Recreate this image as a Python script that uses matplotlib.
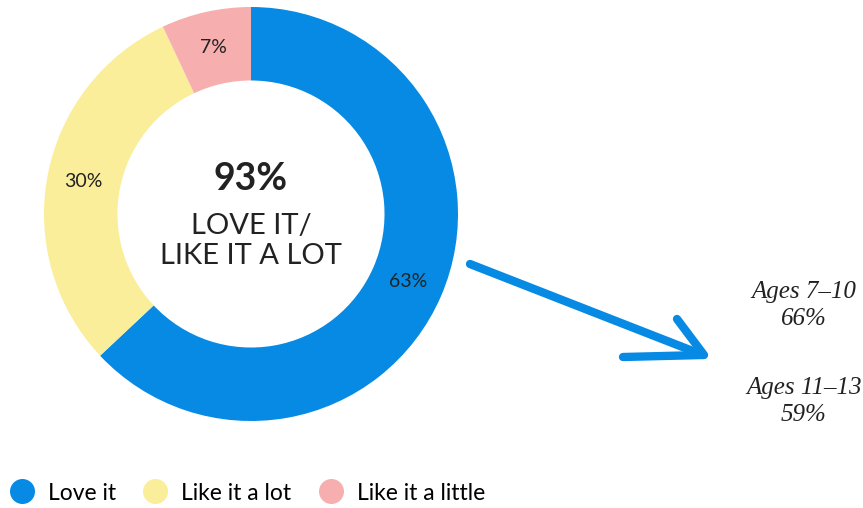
import matplotlib.pyplot as plt
from matplotlib.lines import Line2D

# data
labels = ["Love it", "Like it a lot", "Like it a little"]
shares = [63, 30, 7]
colors = ["#078AE4", "#FAEE9A", "#F7AEAE"]
headline_pct = "93%"
headline_text = "LOVE IT/\nLIKE IT A LOT"
age_groups = ["Ages 7\u201310", "Ages 11\u201313"]
age_pcts = ["66%", "59%"]

W, H = 863, 508
SANS = ["Lato", "DejaVu Sans"]
SERIF = ["Liberation Serif", "DejaVu Serif"]


def px(x, y):
    """pixel position (from top-left) to figure fraction"""
    return x / W, 1 - y / H


fig = plt.figure(figsize=(W / 100, H / 100), dpi=100)

# donut
cx, cy, r = 251, 214, 207
ax = fig.add_axes([(cx - r) / W, 1 - (cy + r) / H, 2 * r / W, 2 * r / H])
wedges, _, autotexts = ax.pie(
    shares, colors=colors, startangle=90, counterclock=False,
    radius=1, wedgeprops=dict(width=0.355, linewidth=0),
    autopct="%d%%", pctdistance=0.825,
    textprops=dict(fontsize=14, color="#222222", family=SANS),
)
ax.set_xlim(-1, 1)
ax.set_ylim(-1, 1)
ax.set_aspect("equal")
ax.axis("off")

ax.text(0, 0.17, headline_pct, ha="center", va="center", fontsize=27,
        fontweight="bold", color="#222222", family=SANS)
ax.text(0, -0.13, headline_text, ha="center", va="center", fontsize=21,
        color="#222222", family=SANS, linespacing=1.2)

# hand-drawn arrow
arrow_kw = dict(color="#078AE4", lw=6, solid_capstyle="round",
                transform=fig.transFigure)
for (x0, y0), (x1, y1) in [((470, 264), (703, 355)),
                           ((677, 319), (704, 355)),
                           ((623, 357), (703, 355))]:
    a, b = px(x0, y0)
    c, d = px(x1, y1)
    fig.add_artist(Line2D([a, c], [b, d], **arrow_kw))

# age breakdown
for i, (grp, pct) in enumerate(zip(age_groups, age_pcts)):
    y0 = 292 + i * 96
    fig.text(*px(804, y0), grp, ha="center", va="center", fontsize=18,
             style="italic", family=SERIF, color="#222222")
    fig.text(*px(804, y0 + 27), pct, ha="center", va="center", fontsize=18,
             style="italic", family=SERIF, color="#222222")

# legend
handles = [Line2D([], [], marker="o", ls="", markersize=18,
                  markerfacecolor=c, markeredgewidth=0) for c in colors]
fig.legend(handles, labels, loc="center left", bbox_to_anchor=px(2, 493),
           ncol=3, frameon=False, prop=dict(family=SANS, size=16.5),
           handletextpad=0.45, columnspacing=1.05, handlelength=1.35,
           borderaxespad=0, borderpad=0.2)

fig.savefig("out.png", dpi=100)
